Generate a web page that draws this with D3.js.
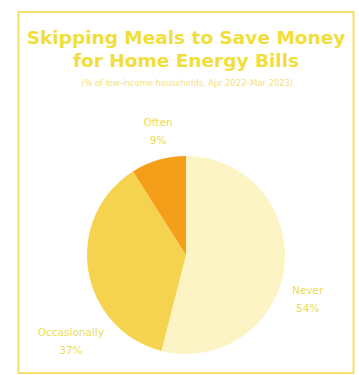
<!DOCTYPE html>
<html>
<head>
<meta charset="utf-8">
<script src="https://cdn.jsdelivr.net/npm/d3@7"></script>
<style>
  body { margin: 0; background: #fff; }
  svg { display: block; font-family: "DejaVu Sans", Verdana, sans-serif; }
</style>
</head>
<body>
<svg id="chart" width="359" height="375"></svg>
<script>
// data
const categories = ['Never', 'Occasionally', 'Often'];
const shares = [54, 37, 9];
const titleLines = ['Skipping Meals to Save Money', 'for Home Energy Bills'];
const subtitle = '(% of low-income households, Apr 2022–Mar 2023)';

const colors = ['#fdf4c6', '#f6d34f', '#f59e1a'];

const cx = 186;
const cy = 255;
const radius = 99;

const svg = d3.select('#chart');

// frame
svg.append('rect')
  .attr('x', 18.5)
  .attr('y', 12)
  .attr('width', 335)
  .attr('height', 361)
  .attr('fill', 'none')
  .attr('stroke', '#f4e06a')
  .attr('stroke-width', 2);

// title
svg.selectAll('text.title')
  .data(titleLines)
  .enter()
  .append('text')
  .attr('class', 'title')
  .attr('x', 186)
  .attr('y', (d, i) => 44 + i * 23)
  .attr('text-anchor', 'middle')
  .attr('font-size', 18.5)
  .attr('font-weight', 'bold')
  .attr('fill', '#f2de3a')
  .text((d) => d);

svg.append('text')
  .attr('x', 187)
  .attr('y', 86)
  .attr('text-anchor', 'middle')
  .attr('font-size', 8.3)
  .attr('fill', '#f3e27a')
  .text(subtitle);

const rows = categories.map((c, i) => ({ name: c, value: shares[i], color: colors[i] }));

const pie = d3.pie()
  .sort(null)
  .value((d) => d.value)
  .startAngle(0)
  .endAngle(2 * Math.PI);

const arc = d3.arc().innerRadius(0).outerRadius(radius);
const labelArc = d3.arc().innerRadius(radius * 1.3).outerRadius(radius * 1.3);

const g = svg.append('g').attr('transform', 'translate(' + cx + ',' + cy + ')');

const slices = pie(rows);

g.selectAll('path')
  .data(slices)
  .enter()
  .append('path')
  .attr('d', arc)
  .attr('fill', (d) => d.data.color);

// labels sit a little off the radial line in the original
const nudge = { Never: [-6, 26], Occasionally: [12, 64], Often: [8, -2] };

const labels = g.selectAll('g.label')
  .data(slices)
  .enter()
  .append('g')
  .attr('class', 'label')
  .attr('transform', (d) => {
    const c = labelArc.centroid(d);
    const n = nudge[d.data.name];
    return 'translate(' + (c[0] + n[0]) + ',' + (c[1] + n[1]) + ')';
  });

labels.append('text')
  .attr('text-anchor', 'middle')
  .attr('y', -3)
  .attr('font-size', 10.5)
  .attr('fill', '#ecdc55')
  .text((d) => d.data.name);

labels.append('text')
  .attr('text-anchor', 'middle')
  .attr('y', 15)
  .attr('font-size', 10.5)
  .attr('fill', '#ecdc55')
  .text((d) => d.data.value + '%');
</script>
</body>
</html>
